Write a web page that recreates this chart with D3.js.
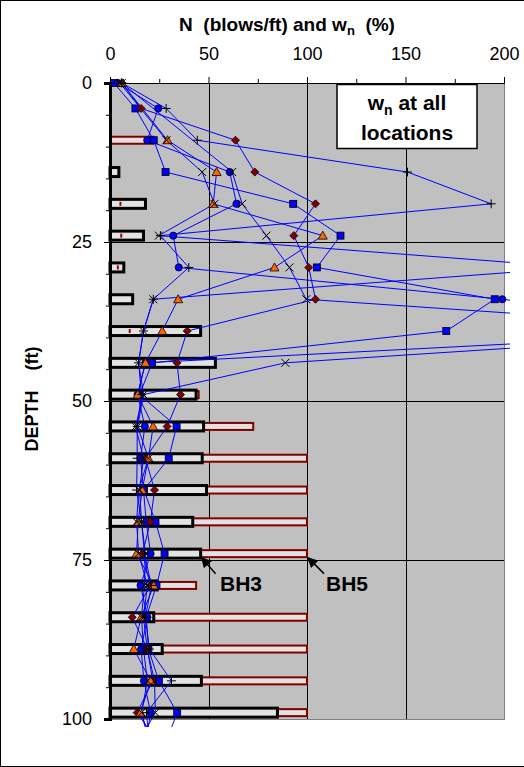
<!DOCTYPE html>
<html>
<head>
<meta charset="utf-8">
<script src="https://cdn.jsdelivr.net/npm/d3@7"></script>
<style>
  body { margin: 0; background: #fff; }
  svg { display: block; font-family: "Liberation Sans", Arial, sans-serif; }
</style>
</head>
<body>
<div id="chart"></div>
<script>
// sample depths (ft) shared by the water content series
const depths = [0, 4, 9, 14, 19, 24, 29, 34, 39, 44, 49, 54, 59, 64, 69, 74, 79, 84, 89, 94, 99, 104];

// w_n (%) per location (null = no sample)
const wnSquare   = [2, 12.9, 22.2, 28.2, 93, 117, 105, 195.3, 170.7, 21.4, 15, 33.8, 29.8, 17.2, 23.1, 27.7, 23.6, 18.4, 19.5, 24.8, 34.1, 28];
const wnCircle   = [4, 24.5, 18.9, 60.8, 64.2, 32.1, 34.9, 199.1, 330, 18, 14, 17.7, 15.5, 17, 18.4, 20.6, 15.5, 19, 15.8, 17.2, 20.6, 18];
const wnDiamond  = [6, 15.8, 63.7, 73.5, 104.3, 93.3, 100.9, 104.3, 39.2, 34, 35.8, 29, 18, 22.6, 20.5, 16.5, 20.5, 11.3, 19, 21.7, 13.8, 25];
const wnTriangle = [6, null, 29.2, 54.1, 52.4, 108, 83.5, 34.6, 26.5, 18, 14, 21.9, 19.5, 16.3, 14.3, 13.5, 22.2, 15.8, 12.1, 20.6, 15.5, 22];
const wnCrossA   = [5, null, 28.7, 46.8, 53, 24.8, 237, 22, 17, 14.5, 17, 14, 19.5, 14.6, 13.5, 14.5, 19, 17, 18.9, 22.6, 23, 14];
const wnCrossB   = [6, null, null, 62, 67.1, 79.4, 91.1, 99.6, 337, 89, 16.9, 13, 17, 15, 16, 18, 17.5, 16, 17, 19, 16, 20];
const wnPlus     = [6, 28.5, 44.3, 151, 193.5, 25.6, 40, 22, 17, 14.5, 16, 13.8, 13.8, 13.5, 16, 17.5, 21, 18, 20, 31.2, 18.5, 20];

// SPT blow counts N (blows/ft)
const bh3Depths = [14, 19, 24, 29, 34, 39, 44, 49, 54, 59, 64, 69, 74, 79, 84, 89, 94, 99];
const bh3N      = [4.5, 18, 17, 7, 11.5, 46, 53.5, 43.7, 47.5, 46.8, 49, 42, 46, 24, 22.2, 26.5, 46.4, 85];
const bh5Depths = [9, 19, 24, 29, 39, 44, 49, 54, 59, 64, 69, 74, 79, 84, 89, 94, 99];
const bh5N      = [22, 5.3, 5.7, 4, 10, 42, 45, 72.7, 100, 100, 100, 100, 43.7, 100, 100, 100, 100];

const xMajor = [0, 50, 100, 150, 200];
const yMajor = [0, 25, 50, 75, 100];

const W = 524, H = 767;
const plot = { left: 110, right: 504, top: 83, bottom: 719 };

const svg = d3.select('#chart').append('svg')
    .attr('width', W)
    .attr('height', H);

// chart area frame (cut off on the right like the original)
svg.append('rect')
    .attr('x', 0.5).attr('y', 0.5)
    .attr('width', W + 20).attr('height', H - 1)
    .attr('fill', '#fff')
    .attr('stroke', '#000');

const x = d3.scaleLinear().domain([0, 200]).range([plot.left, plot.right]);
const y = d3.scaleLinear().domain([0, 100]).range([plot.top, plot.bottom]);

// plot background
svg.append('rect')
    .attr('x', plot.left).attr('y', plot.top)
    .attr('width', plot.right - plot.left)
    .attr('height', plot.bottom - plot.top)
    .attr('fill', '#c0c0c0');

// gridlines
const grid = svg.append('g').attr('shape-rendering', 'crispEdges');
grid.selectAll('.vg').data([50, 100, 150]).join('line')
    .attr('x1', d => Math.round(x(d)) + 0.5).attr('x2', d => Math.round(x(d)) + 0.5)
    .attr('y1', plot.top).attr('y2', plot.bottom)
    .attr('stroke', '#000');
grid.selectAll('.hg').data([25, 50, 75]).join('line')
    .attr('x1', plot.left).attr('x2', plot.right)
    .attr('y1', d => Math.round(y(d)) + 0.5).attr('y2', d => Math.round(y(d)) + 0.5)
    .attr('stroke', '#000');
// plot border right / bottom
grid.append('path')
    .attr('d', `M${plot.right + 0.5},${plot.top}V${plot.bottom + 0.5}H${plot.left}`)
    .attr('fill', 'none')
    .attr('stroke', '#808080')
    .attr('stroke-width', 1.5);

// N bars: BH5 (red) behind, BH3 (black) on top
const bh5 = bh5Depths.map((d, i) => ({ depth: d, n: bh5N[i] }));
const bh3 = bh3Depths.map((d, i) => ({ depth: d, n: bh3N[i] }));

svg.append('g').selectAll('rect').data(bh5).join('rect')
    .attr('x', x(0))
    .attr('y', d => y(d.depth) - 3.5)
    .attr('width', d => x(d.n) - x(0))
    .attr('height', 7)
    .attr('fill', '#e2e2e2')
    .attr('stroke', '#800000')
    .attr('stroke-width', 2);

svg.append('g').selectAll('rect').data(bh3).join('rect')
    .attr('x', x(0))
    .attr('y', d => y(d.depth) - 4.5)
    .attr('width', d => x(d.n) - x(0))
    .attr('height', 9)
    .attr('fill', '#e2e2e2')
    .attr('stroke', '#000')
    .attr('stroke-width', 3);

// red bar ends showing through the black bars
svg.append('g').selectAll('line').data(bh5.filter(d => d.n < 15)).join('line')
    .attr('x1', d => x(d.n)).attr('x2', d => x(d.n))
    .attr('y1', d => y(d.depth) - 2).attr('y2', d => y(d.depth) + 2)
    .attr('stroke', '#a00000')
    .attr('stroke-width', 2);

// water content series
const series = [
    { name: 'square', values: wnSquare },
    { name: 'circle', values: wnCircle },
    { name: 'diamond', values: wnDiamond },
    { name: 'triangle', values: wnTriangle },
    { name: 'crossA', values: wnCrossA },
    { name: 'crossB', values: wnCrossB },
    { name: 'plus', values: wnPlus }
].map(s => ({
    name: s.name,
    points: depths.map((d, i) => ({ depth: d, wn: s.values[i] })).filter(p => p.wn !== null)
}));

svg.append('clipPath').attr('id', 'clip')
    .append('rect')
    .attr('x', plot.left - 2).attr('y', plot.top - 6)
    .attr('width', plot.right - plot.left + 8)
    .attr('height', plot.bottom - plot.top + 14);

const layer = svg.append('g').attr('clip-path', 'url(#clip)');

const line = d3.line()
    .x(d => x(d.wn))
    .y(d => y(d.depth));

layer.selectAll('path.wn').data(series).join('path')
    .attr('class', 'wn')
    .attr('d', d => line(d.points))
    .attr('fill', 'none')
    .attr('stroke', '#0000ff')
    .attr('stroke-width', 1);

function drawMarker(g, kind) {
    if (kind === 'square') {
        g.append('rect').attr('x', -3.5).attr('y', -3.5).attr('width', 7).attr('height', 7)
            .attr('fill', '#0000ff').attr('stroke', '#000').attr('stroke-width', 0.8);
    } else if (kind === 'circle') {
        g.append('circle').attr('r', 3.6)
            .attr('fill', '#0000ff').attr('stroke', '#000').attr('stroke-width', 0.8);
    } else if (kind === 'diamond') {
        g.append('path').attr('d', 'M0,-4L4,0L0,4L-4,0Z')
            .attr('fill', '#800000').attr('stroke', '#000').attr('stroke-width', 0.8);
    } else if (kind === 'triangle') {
        g.append('path').attr('d', 'M0,-4.5L4.5,3.5L-4.5,3.5Z')
            .attr('fill', '#ff6600').attr('stroke', '#000').attr('stroke-width', 0.8);
    } else if (kind === 'crossA' || kind === 'crossB') {
        g.append('path').attr('d', 'M-4,-4L4,4M-4,4L4,-4')
            .attr('stroke', '#000').attr('stroke-width', 1);
    } else {
        g.append('path').attr('d', 'M-4.5,0H4.5M0,-4.5V4.5')
            .attr('stroke', '#000').attr('stroke-width', 1);
    }
}

series.forEach(s => {
    layer.append('g').selectAll('g').data(s.points).join('g')
        .attr('transform', d => `translate(${x(d.wn)},${y(d.depth)})`)
        .each(function () { drawMarker(d3.select(this), s.name); });
});

// axes
const xAxis = svg.append('g')
    .attr('transform', `translate(0,${plot.top})`)
    .call(d3.axisTop(x).tickValues(xMajor).tickSize(6).tickPadding(17).tickFormat(d3.format('d')));
svg.append('g')
    .attr('transform', `translate(0,${plot.top})`)
    .call(d3.axisTop(x).tickValues([25, 75, 125, 175]).tickSize(4).tickFormat(''))
    .call(g => g.select('.domain').remove());

const yAxis = svg.append('g')
    .attr('transform', `translate(${plot.left},0)`)
    .call(d3.axisLeft(y).tickValues(yMajor).tickSize(6).tickPadding(12).tickFormat(d3.format('d')));
svg.append('g')
    .attr('transform', `translate(${plot.left},0)`)
    .call(d3.axisLeft(y).tickValues(d3.range(5, 100, 5).filter(v => v % 25 !== 0)).tickSize(4).tickFormat(''))
    .call(g => g.select('.domain').remove());

svg.selectAll('.tick text')
    .attr('font-size', 18)
    .attr('font-family', '"Liberation Sans", Arial, sans-serif')
    .attr('fill', '#000');
svg.selectAll('.tick line').attr('stroke', '#000');
xAxis.select('.domain').attr('stroke', '#000');
yAxis.select('.domain').attr('stroke', '#000').attr('stroke-width', 3);

// axis titles
const title = svg.append('text')
    .attr('x', 287).attr('y', 31)
    .attr('text-anchor', 'middle')
    .attr('font-size', 19)
    .attr('font-weight', 'bold')
    .attr('xml:space', 'preserve');
title.append('tspan').text('N  (blows/ft) and w');
title.append('tspan').attr('font-size', 13).attr('dy', 4).text('n');
title.append('tspan').attr('dy', -4).text('  (%)');

svg.append('text')
    .attr('transform', `translate(38,${(plot.top + plot.bottom) / 2 - 2}) rotate(-90)`)
    .attr('text-anchor', 'middle')
    .attr('font-size', 18)
    .attr('font-weight', 'bold')
    .attr('xml:space', 'preserve')
    .text('DEPTH    (ft)');

// legend box
svg.append('rect')
    .attr('x', 337).attr('y', 84.5)
    .attr('width', 140).attr('height', 64)
    .attr('fill', '#fff')
    .attr('stroke', '#000')
    .attr('stroke-width', 1.5);
const leg = svg.append('text')
    .attr('x', 407).attr('y', 110)
    .attr('text-anchor', 'middle')
    .attr('font-size', 21)
    .attr('font-weight', 'bold');
leg.append('tspan').text('w');
leg.append('tspan').attr('font-size', 14).attr('dy', 5).text('n');
leg.append('tspan').attr('dy', -5).text(' at all');
svg.append('text')
    .attr('x', 407).attr('y', 140)
    .attr('text-anchor', 'middle')
    .attr('font-size', 21)
    .attr('font-weight', 'bold')
    .text('locations');

// BH labels with arrows pointing at the 74 ft bars
svg.append('defs').append('marker')
    .attr('id', 'arrow')
    .attr('viewBox', '0 0 10 10')
    .attr('refX', 9).attr('refY', 5)
    .attr('markerWidth', 7).attr('markerHeight', 7)
    .attr('orient', 'auto')
    .append('path').attr('d', 'M0,0L10,5L0,10Z').attr('fill', '#000');

const notes = [
    { label: 'BH3', n: bh3N[bh3Depths.indexOf(74)], depth: 74, dx: 14, tx: 220 },
    { label: 'BH5', n: bh5N[bh5Depths.indexOf(74)], depth: 74, dx: 16, tx: 326 }
];
notes.forEach(nt => {
    const hx = x(nt.n) + 1, hy = y(nt.depth) + 4;
    svg.append('line')
        .attr('x1', hx + nt.dx).attr('y1', hy + 16)
        .attr('x2', hx).attr('y2', hy)
        .attr('stroke', '#000').attr('stroke-width', 1.5)
        .attr('marker-end', 'url(#arrow)');
    svg.append('text')
        .attr('x', nt.tx).attr('y', 591)
        .attr('font-size', 21)
        .attr('font-weight', 'bold')
        .text(nt.label);
});
</script>
</body>
</html>
